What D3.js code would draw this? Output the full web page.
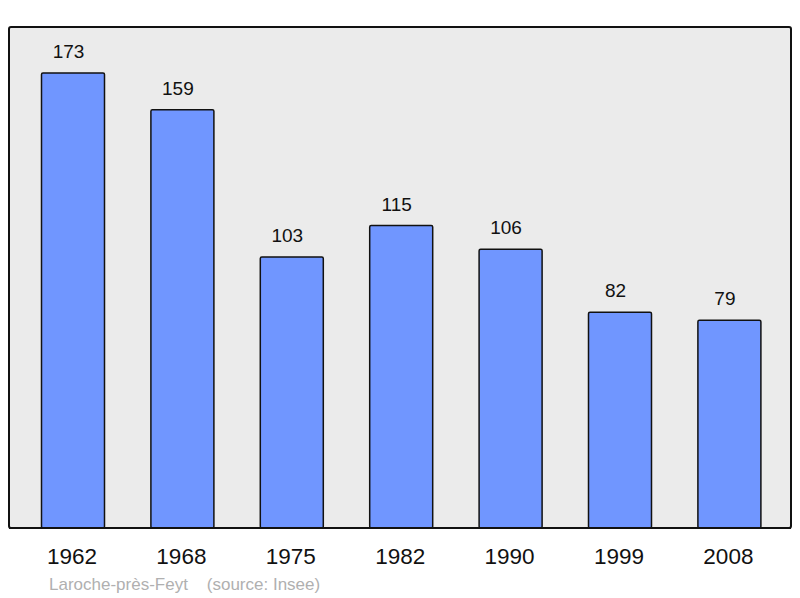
<!DOCTYPE html>
<html><head><meta charset="utf-8">
<script src="https://d3js.org/d3.v7.min.js"></script>
<style>body{margin:0;background:#fff;}svg{display:block;font-family:"Liberation Sans",Arial,sans-serif;}</style>
</head><body>
<script>
const years = ["1962","1968","1975","1982","1990","1999","2008"];
const population = [173,159,103,115,106,82,79];
const footer = "Laroche-près-Feyt    (source: Insee)";

const W = 800, H = 598;
const frame = {left: 9, top: 27, right: 791, bottom: 528};
const svg = d3.select("body").append("svg").attr("width", W).attr("height", H);

svg.append("rect")
  .attr("x", frame.left).attr("y", frame.top)
  .attr("width", frame.right - frame.left).attr("height", frame.bottom - frame.top)
  .attr("rx", 2).attr("fill", "#ebebeb").attr("stroke", "#111").attr("stroke-width", 2);

const x = d3.scalePoint().domain(years).range([18.3, 784.1]).padding(0.5);
const y = d3.scaleLinear().domain([0, 190.5]).range([frame.bottom, frame.top]);
const bw = 63;

const data = years.map((yr, i) => ({yr, v: population[i]}));

svg.selectAll("rect.bar").data(data).enter().append("rect")
  .attr("class", "bar")
  .attr("x", d => x(d.yr) - bw / 2)
  .attr("y", d => y(d.v))
  .attr("width", bw)
  .attr("height", d => y(0) - y(d.v))
  .attr("rx", 1.5)
  .attr("fill", "#7096ff").attr("stroke", "#111").attr("stroke-width", 1.5);

svg.selectAll("text.val").data(data).enter().append("text")
  .attr("class", "val")
  .attr("x", d => x(d.yr) - 4.5)
  .attr("y", d => y(d.v) - 15)
  .attr("text-anchor", "middle")
  .attr("font-size", 19).attr("fill", "#111")
  .text(d => d.v);

svg.append("line").attr("x1", frame.left).attr("x2", frame.right)
  .attr("y1", frame.bottom).attr("y2", frame.bottom)
  .attr("stroke", "#111").attr("stroke-width", 2);

svg.selectAll("text.yr").data(years).enter().append("text")
  .attr("class", "yr")
  .attr("x", d => x(d) - 1)
  .attr("y", 564)
  .attr("text-anchor", "middle")
  .attr("font-size", 22.5).attr("fill", "#111")
  .text(d => d);

svg.append("text").attr("x", 49).attr("y", 590)
  .attr("font-size", 17).attr("fill", "#b0b0b0")
  .attr("xml:space", "preserve").style("white-space", "pre")
  .text(footer);
</script>
</body></html>
